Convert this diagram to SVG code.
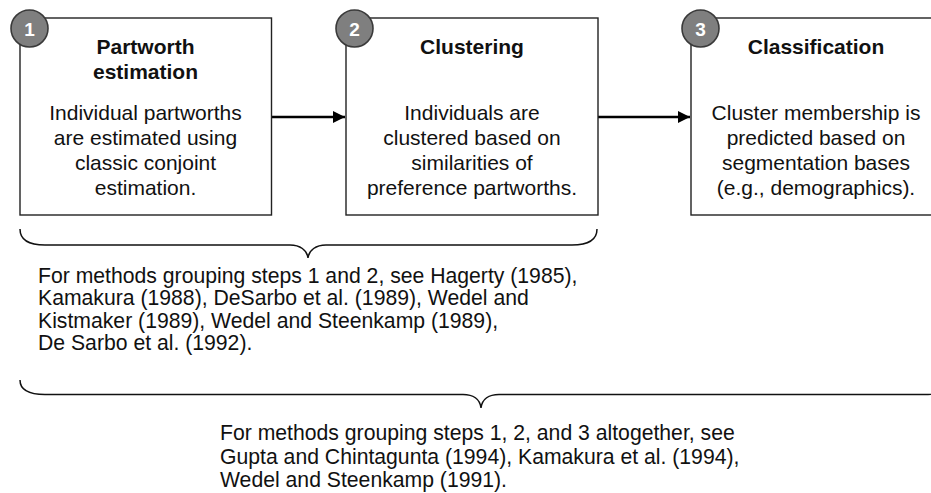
<svg xmlns="http://www.w3.org/2000/svg" width="931" height="493" viewBox="0 0 931 493">
<defs>
<style>
.box{fill:#fff;stroke:#222;stroke-width:1.4}
.badge{fill:#7f7f7f;stroke:#3a3a3a;stroke-width:1.6}
.num{font-family:"Liberation Sans",Arial,sans-serif;font-weight:bold;font-size:19px;fill:#fff;text-anchor:middle}
.title{font-family:"Liberation Sans",Arial,sans-serif;font-weight:bold;font-size:21px;fill:#111;text-anchor:middle}
.body{font-family:"Liberation Sans",Arial,sans-serif;font-size:21px;fill:#111;text-anchor:middle}
.note{font-family:"Liberation Sans",Arial,sans-serif;font-size:21.2px;fill:#111}
.conn{stroke:#000;stroke-width:2.4;fill:none}
.brace{stroke:#111;stroke-width:1.5;fill:none}
</style>
<marker id="ah" markerWidth="12" markerHeight="12" refX="12" refY="6" orient="auto" markerUnits="userSpaceOnUse">
<path d="M0,0 L12,6 L0,12 Z" fill="#000"/>
</marker>
</defs>
<rect width="931" height="493" fill="#fff"/>
<g id="connectors">
<line class="conn" x1="272" y1="117" x2="345" y2="117" marker-end="url(#ah)"/>
<line class="conn" x1="598" y1="117" x2="690" y2="117" marker-end="url(#ah)"/>
</g>
<g id="step1">
<rect class="box" x="20" y="18" width="251.5" height="197"/>
<circle class="badge" cx="29.5" cy="28.5" r="18.5"/>
<text class="num" x="29.5" y="35.5">1</text>
<text class="title" x="145.5" y="54">Partworth</text>
<text class="title" x="145.5" y="79">estimation</text>
<text class="body" x="145.5" y="120">Individual partworths</text>
<text class="body" x="145.5" y="145">are estimated using</text>
<text class="body" x="145.5" y="170">classic conjoint</text>
<text class="body" x="145.5" y="195">estimation.</text>
</g>
<g id="step2">
<rect class="box" x="346" y="18" width="252" height="197"/>
<circle class="badge" cx="354.5" cy="28.5" r="18.5"/>
<text class="num" x="354.5" y="35.5">2</text>
<text class="title" x="472" y="54">Clustering</text>
<text class="body" x="472" y="120">Individuals are</text>
<text class="body" x="472" y="145">clustered based on</text>
<text class="body" x="472" y="170">similarities of</text>
<text class="body" x="472" y="195">preference partworths.</text>
</g>
<g id="step3">
<rect class="box" x="691" y="18" width="260" height="197"/>
<circle class="badge" cx="700.5" cy="28.5" r="18.5"/>
<text class="num" x="700.5" y="35.5">3</text>
<text class="title" x="816" y="54">Classification</text>
<text class="body" x="816" y="120">Cluster membership is</text>
<text class="body" x="816" y="145">predicted based on</text>
<text class="body" x="816" y="170">segmentation bases</text>
<text class="body" x="816" y="195">(e.g., demographics).</text>
</g>
<g id="group12">
<path class="brace" d="M20,229 C20,240 28,245 45,245 L290,245 C300,245 307,250 308,258 C309,250 316,245 326,245 L572,245 C589,245 597,240 597,229"/>
<text class="note" x="38" y="282.5">For methods grouping steps 1 and 2, see Hagerty (1985),</text>
<text class="note" x="38" y="305">Kamakura (1988), DeSarbo et al. (1989), Wedel and</text>
<text class="note" x="38" y="327.5">Kistmaker (1989), Wedel and Steenkamp (1989),</text>
<text class="note" x="38" y="350">De Sarbo et al. (1992).</text>
</g>
<g id="group123">
<path class="brace" d="M20,380 C20,390 28,394.5 45,394.5 L463,394.5 C473,394.5 480,399 481,408 C482,399 489,394.5 499,394.5 L925,394.5 C942,394.5 950,390 950,380"/>
<text class="note" x="220" y="440">For methods grouping steps 1, 2, and 3 altogether, see</text>
<text class="note" x="220" y="463.5">Gupta and Chintagunta (1994), Kamakura et al. (1994),</text>
<text class="note" x="220" y="487">Wedel and Steenkamp (1991).</text>
</g>
</svg>
